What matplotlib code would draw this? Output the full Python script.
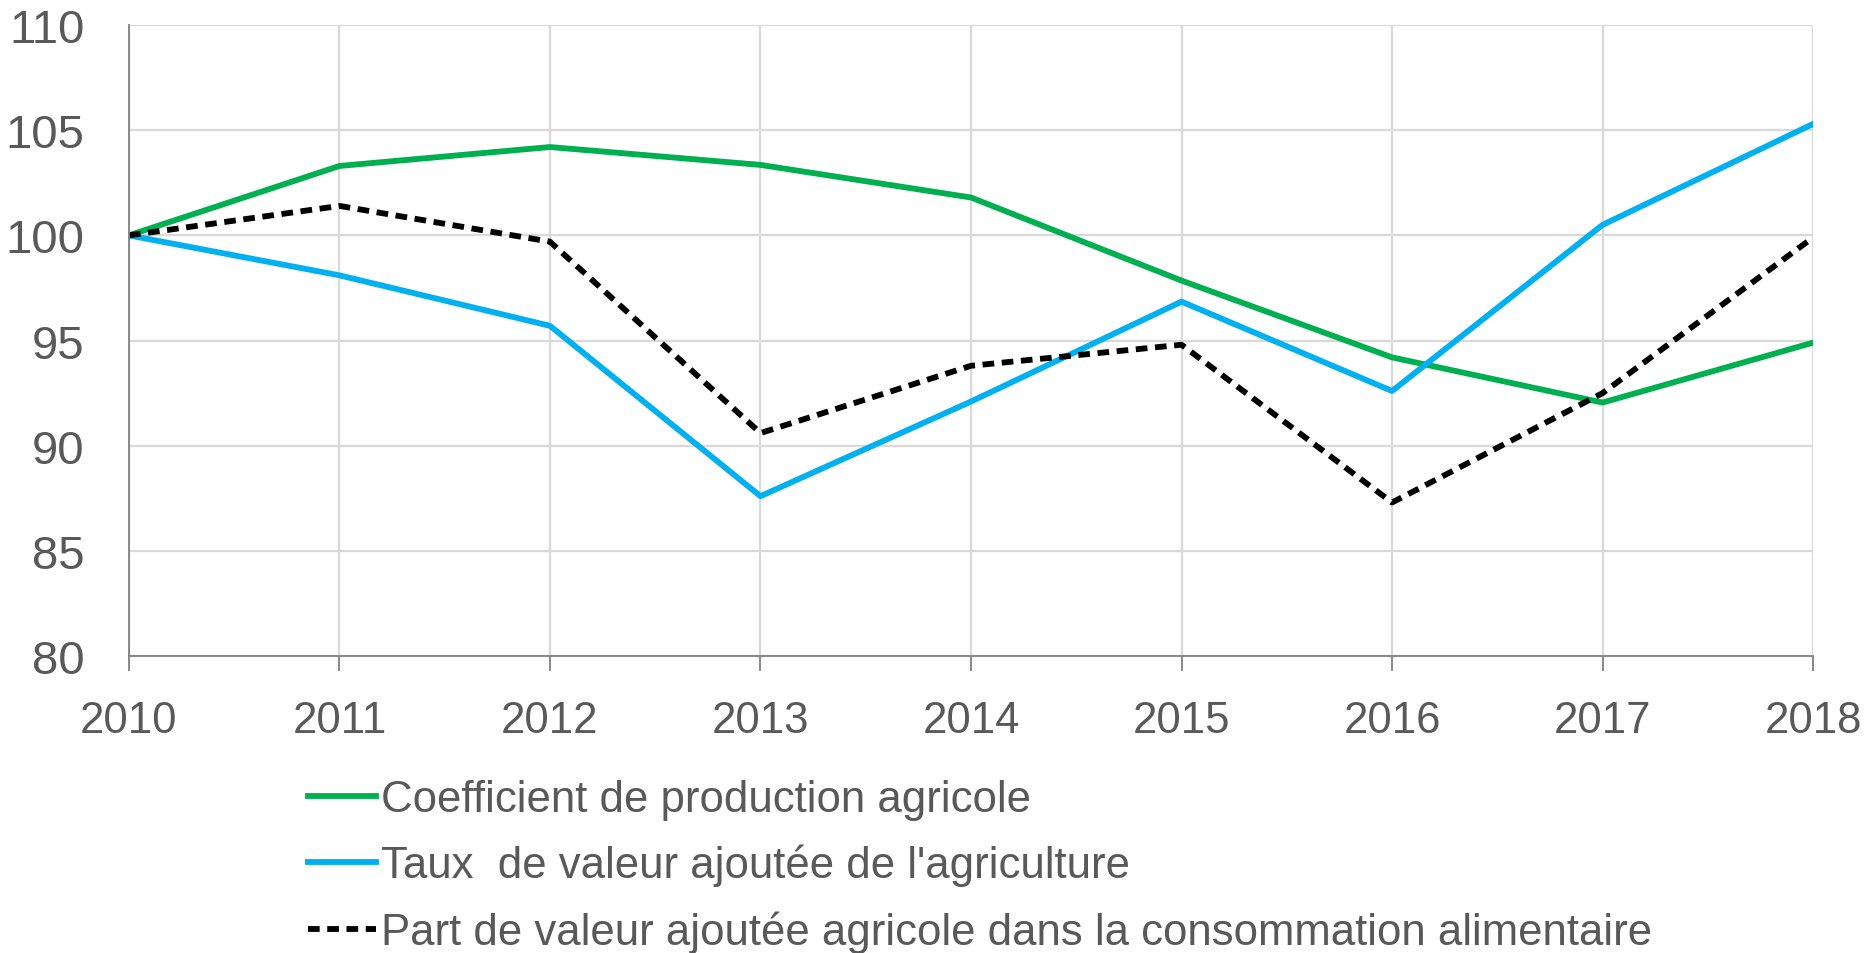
"""
## Indices of agricultural value added, 2010 = 100.
"""

import matplotlib
matplotlib.use('Agg')
import matplotlib.pyplot as plt
from matplotlib import font_manager

## Years and the three series.
years = [2010, 2011, 2012, 2013, 2014, 2015, 2016, 2017, 2018]
coef_prod = [100.0, 103.3, 104.2, 103.35, 101.8, 97.85, 94.2, 92.05, 94.9]
taux_va = [100.0, 98.1, 95.7, 87.6, 92.1, 96.85, 92.6, 100.5, 105.3]
part_va = [100.0, 101.4, 99.7, 90.6, 93.8, 94.8, 87.3, 92.5, 99.9]

labels = ['Coefficient de production agricole',
          'Taux  de valeur ajoutée de l\'agriculture',
          'Part de valeur ajoutée agricole dans la consommation alimentaire']
yticks = [80, 85, 90, 95, 100, 105, 110]

## Pick a narrow font when available.
names = set(f.name for f in font_manager.fontManager.ttflist)
fam = ['Liberation Sans Narrow'] if 'Liberation Sans Narrow' in names else ['Liberation Sans']
plt.rcParams['font.family'] = fam + ['DejaVu Sans']

txtcol = '#595959'
gridcol = '#D9D9D9'

fig = plt.figure(figsize=(18.74, 9.54), dpi=100)
ax = fig.add_axes([0.0688, 0.3113, 0.8987, 0.6614])

ax.plot(years, coef_prod, color='#00B050', lw=4.2, label=labels[0])
ax.plot(years, taux_va, color='#00B0F0', lw=4.2, label=labels[1])
ax.plot(years, part_va, color='black', lw=4.2, ls=(0, (2.0, 1.3)), label=labels[2])

ax.set_xlim(2010, 2018)
ax.set_ylim(80, 110)
ax.set_xticks(years)
ax.set_yticks(yticks)

## Grid lines in light grey, both directions.
ax.grid(True, color=gridcol, lw=1.6)
ax.set_axisbelow(True)
for s in ['top', 'right']:
    ax.spines[s].set_visible(False)
ax.spines['left'].set_color('#808080')
ax.spines['bottom'].set_color('#808080')
ax.spines['left'].set_linewidth(1.3)
ax.spines['bottom'].set_linewidth(1.3)

ax.tick_params(axis='y', length=0, pad=32, labelsize=34, labelcolor=txtcol)
ax.tick_params(axis='x', length=11, width=1.3, color='#808080',
               pad=21, labelsize=31.5, labelcolor=txtcol)

## Legend below the plot, one entry per row.
leg = fig.legend(loc='upper left', bbox_to_anchor=(0.1644, 0.1825),
                 frameon=False, fontsize=31.5, handlelength=1.55,
                 handletextpad=0.12, labelspacing=0.55, borderpad=0.0,
                 borderaxespad=0.0)
for t in leg.get_texts():
    t.set_color(txtcol)

fig.savefig('out.png', dpi=100, facecolor='w')
